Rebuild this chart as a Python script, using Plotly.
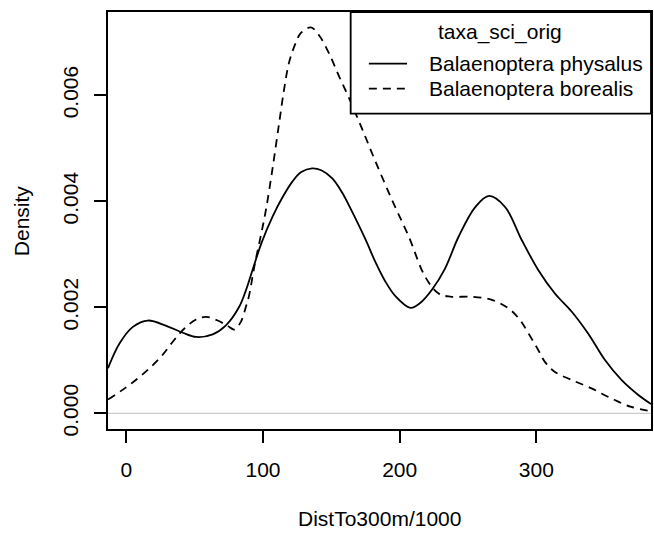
import plotly.graph_objects as go

# ---- data ----
phys_x = [-13.4, -4.9, 4.8, 15.8, 29.2, 41.3, 51.1, 63.2, 72.9, 82.6, 87.5, 92.3, 99,
          107, 114.2, 121.5, 128, 135.9, 143, 150.7, 158, 164.1, 175, 182.3, 189,
          196.9, 207.9, 215, 223.6, 233, 243.1, 255.3, 265.5, 277.2, 289.3, 301.5,
          313.6, 325.8, 338, 350.1, 362.3, 374.4, 383.9]
phys_y = [0.00085, 0.00132, 0.00163, 0.00175, 0.00165, 0.00152, 0.00144, 0.00149,
          0.00166, 0.00201, 0.00232, 0.00270, 0.00322, 0.00371, 0.00407, 0.00437,
          0.00455, 0.00462, 0.00458, 0.00443, 0.00416, 0.00386, 0.00328, 0.00285,
          0.00251, 0.00221, 0.00199, 0.00208, 0.00233, 0.00272, 0.00333, 0.00389,
          0.00410, 0.00389, 0.00327, 0.00270, 0.00226, 0.00192, 0.00150, 0.00101,
          0.00063, 0.00035, 0.000175]

bor_x = [-13.4, -1.2, 8.5, 17, 25.5, 34, 42.5, 51.1, 58.4, 66.8, 74.1, 79, 83.9, 87.5,
         89.9, 93.6, 98, 102.1, 107, 111.8, 115.5, 119.1, 124, 127.6, 134.9, 141,
         148.3, 155.6, 162.9, 172.6, 182.3, 194.5, 206.7, 218.8, 228.5, 237, 252.8,
         267.4, 279.6, 288.1, 294.2, 301.5, 306.3, 313.6, 325.8, 340.4, 354.9, 369.5, 384]
bor_y = [0.00026, 0.00047, 0.00066, 0.00085, 0.00107, 0.00135, 0.00160, 0.00177,
         0.00182, 0.00175, 0.00165, 0.00158, 0.00173, 0.00201, 0.00223, 0.00276,
         0.00330, 0.00383, 0.00462, 0.00547, 0.00612, 0.00662, 0.00699, 0.00717,
         0.00728, 0.00713, 0.00679, 0.00636, 0.00595, 0.00536, 0.00475, 0.00402,
         0.00333, 0.00257, 0.00226, 0.00220, 0.00220, 0.00214, 0.00198, 0.00176,
         0.00151, 0.00119, 0.00097, 0.00078, 0.00063, 0.00047, 0.00028, 0.00012, 0.00004]

series_names = ["Balaenoptera physalus", "Balaenoptera borealis"]
legend_title = "taxa_sci_orig"
x_ticks = [0, 100, 200, 300]
y_ticks = [0.000, 0.002, 0.004, 0.006]
x_label = "DistTo300m/1000"
y_label = "Density"

FONT = "Liberation Sans, Arial, sans-serif"
FS = 21
DASH = "8px,6px"
LW = 1.8

fig = go.Figure()
fig.add_trace(go.Scatter(x=phys_x, y=phys_y, mode="lines", name=series_names[0],
                         line=dict(color="black", width=LW, shape="spline", smoothing=1.0)))
fig.add_trace(go.Scatter(x=bor_x, y=bor_y, mode="lines", name=series_names[1],
                         line=dict(color="black", width=LW, dash=DASH,
                                   shape="spline", smoothing=1.0)))

# gray zero line
fig.add_shape(type="line", xref="paper", yref="y", x0=0, x1=1, y0=0, y1=0,
              line=dict(color="#BEBEBE", width=1), layer="below")

# manual R-style legend
lx0, lx1, ly0, ly1 = 0.4469, 1.0, 0.7565, 1.0
fig.add_shape(type="rect", xref="paper", yref="paper", x0=lx0, x1=lx1, y0=ly0, y1=ly1,
              fillcolor="white", line=dict(color="black", width=LW), layer="above")
fig.add_annotation(xref="paper", yref="paper", x=0.7222, y=0.952, text=legend_title,
                   showarrow=False, font=dict(family=FONT, size=FS, color="black"),
                   xanchor="center", yanchor="middle")
for i, (yy, dash) in enumerate([(0.8763, "solid"), (0.8164, DASH)]):
    fig.add_shape(type="line", xref="paper", yref="paper", x0=0.4804, x1=0.5507,
                  y0=yy, y1=yy, line=dict(color="black", width=LW, dash=dash), layer="above")
    fig.add_annotation(xref="paper", yref="paper", x=0.5875, y=yy, text=series_names[i],
                       showarrow=False, font=dict(family=FONT, size=FS, color="black"),
                       xanchor="left", yanchor="middle")

# axis titles
fig.add_annotation(xref="paper", yref="paper", x=0.5, y=-0.214, text=x_label,
                   showarrow=False, font=dict(family=FONT, size=FS, color="black"),
                   xanchor="center", yanchor="middle")
fig.add_annotation(xref="paper", yref="paper", x=-0.159, y=0.5, text=y_label, textangle=-90,
                   showarrow=False, font=dict(family=FONT, size=FS, color="black"),
                   xanchor="center", yanchor="middle")

fig.update_layout(
    width=654, height=536,
    margin=dict(l=108, r=1, t=12, b=107),
    paper_bgcolor="white", plot_bgcolor="white",
    showlegend=False,
    font=dict(family=FONT, size=FS, color="black"),
    xaxis=dict(range=[-13.4, 383.9], tickvals=x_ticks, ticks="outside", ticklen=12,
               tickwidth=LW, tickcolor="black", showline=True, linecolor="black",
               linewidth=LW, mirror=True, showgrid=False, zeroline=False,
               ticklabelstandoff=9, tickfont=dict(family=FONT, size=FS)),
    yaxis=dict(range=[-0.000296, 0.00757], tickvals=y_ticks, tickformat=".3f",
               ticks="outside", ticklen=12, tickwidth=LW, tickcolor="black",
               showline=True, linecolor="black", linewidth=LW, mirror=True,
               showgrid=False, zeroline=False, tickangle=-90, ticklabelstandoff=8,
               tickfont=dict(family=FONT, size=FS)),
)

fig.write_html("out.html")
